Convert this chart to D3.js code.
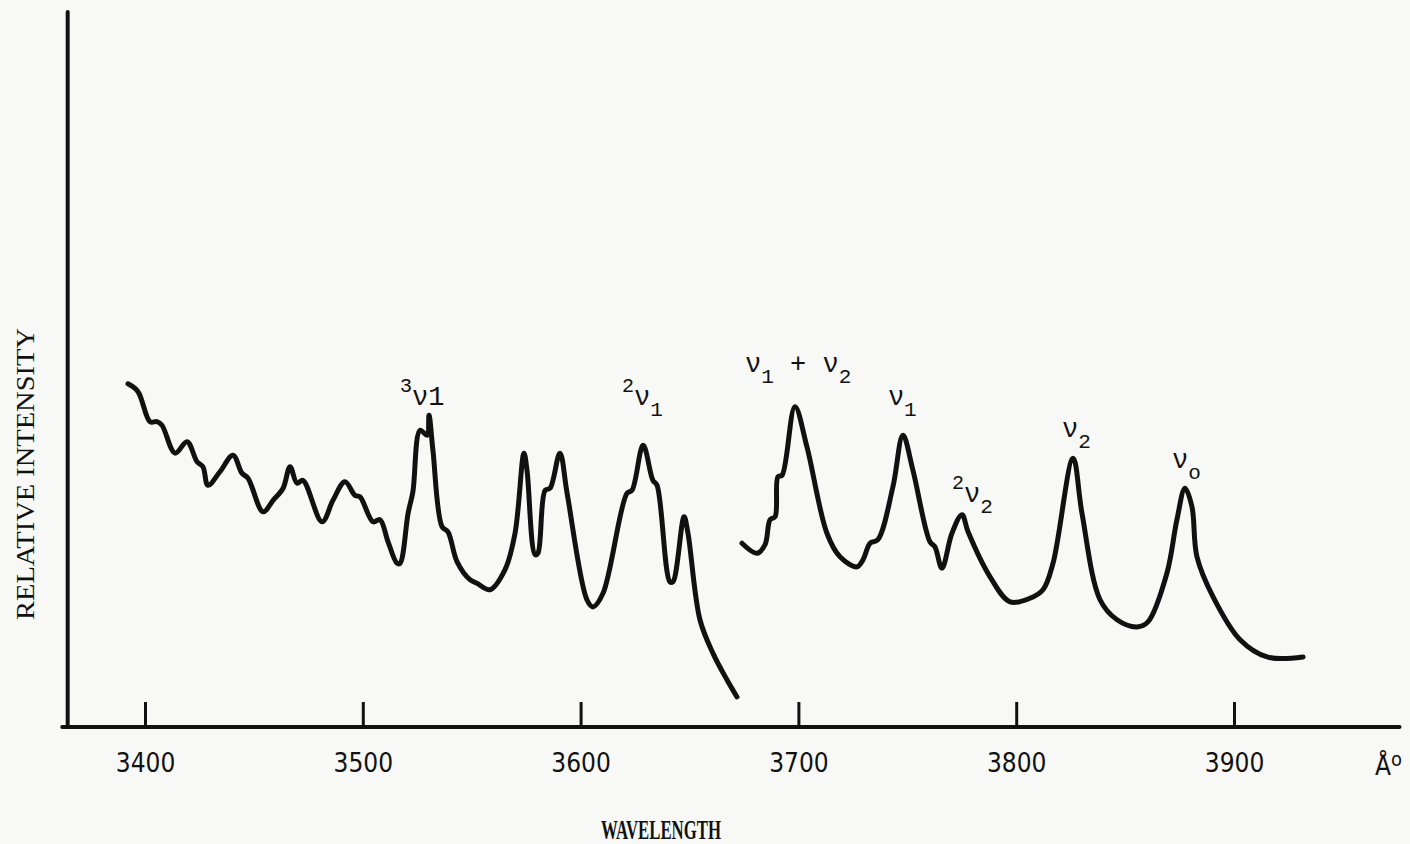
<!DOCTYPE html>
<html>
<head>
<meta charset="utf-8">
<script src="https://cdn.jsdelivr.net/npm/d3@7.9.0/dist/d3.min.js"></script>
<style>
  html, body { margin: 0; padding: 0; background: #f8f8f6; }
  svg { display: block; }
  .mono { font-family: "Liberation Mono", "DejaVu Sans Mono", monospace; fill: #111; }
</style>
</head>
<body>
<svg id="chart" width="1410" height="844"></svg>
<script>
// spectrum (wavelength in Å, relative intensity 0-100)
const seg1Wavelength = [3392.2, 3396.8, 3402.3, 3405.5, 3407.8, 3413.8, 3419.3, 3423.9, 3426.6, 3428.9,
  3434.4, 3440.4, 3444.5, 3447.3, 3454.2, 3458.8, 3463.4, 3466.6, 3469.8, 3472.5,
  3481.3, 3486.3, 3491.8, 3496.4, 3498.7, 3504.7, 3507.9, 3511.6, 3515.7, 3517.1,
  3520.8, 3523.0, 3526.3, 3529.5, 3530.4, 3532.2, 3536.4, 3539.1, 3543.3, 3549.2,
  3552.4, 3558.4, 3565.3, 3569.9, 3574.0, 3575.4, 3579.1, 3580.4, 3583.7, 3586.0,
  3590.5, 3593.8, 3602.9, 3605.7, 3610.3, 3621.3, 3623.6, 3628.7, 3633.2, 3635.1,
  3641.0, 3642.4, 3647.5, 3649.3, 3654.8, 3660.8, 3667.2, 3671.8];
const seg1Intensity = [48.0, 46.9, 42.7, 42.7, 42.2, 38.3, 39.9, 37.1, 36.4, 33.8,
  35.7, 38.0, 35.5, 34.8, 30.1, 31.7, 33.4, 36.4, 34.1, 34.5,
  28.7, 31.7, 34.3, 32.4, 32.2, 28.7, 29.0, 25.9, 22.9, 22.9,
  29.9, 32.9, 41.5, 40.8, 43.6, 38.7, 28.0, 27.3, 23.1, 20.6,
  20.1, 19.2, 22.0, 27.1, 38.3, 35.9, 24.1, 24.3, 33.1, 33.4,
  38.3, 32.7, 17.8, 16.8, 18.7, 32.7, 33.1, 39.4, 34.5, 33.8,
  20.3, 20.3, 29.4, 27.1, 15.0, 10.3, 6.6, 4.2];

const seg2Wavelength = [3674.1, 3681.0, 3684.7, 3687.0, 3689.3, 3690.6, 3692.5, 3698.4, 3703.9, 3713.1,
  3719.1, 3726.9, 3729.7, 3732.9, 3736.5, 3743.4, 3748.0, 3752.6, 3760.4, 3762.7,
  3765.9, 3770.5, 3775.1, 3777.9, 3788.0, 3797.2, 3806.3, 3812.3, 3816.9, 3826.1,
  3830.2, 3838.5, 3846.3, 3855.5, 3860.5, 3869.2, 3873.8, 3877.5, 3880.7, 3883.0,
  3890.4, 3902.8, 3915.2, 3931.7];
const seg2Intensity = [25.7, 24.3, 25.5, 29.0, 29.4, 35.0, 35.2, 44.8, 39.2, 27.1,
  23.8, 22.4, 23.4, 25.7, 26.2, 33.6, 40.8, 35.9, 25.9, 25.2,
  22.2, 27.1, 29.7, 27.3, 21.0, 17.5, 18.0, 19.2, 22.9, 37.6,
  29.9, 17.8, 15.0, 14.0, 14.7, 21.5, 29.0, 33.4, 30.8, 23.8,
  18.2, 12.2, 9.8, 9.8];

const tickValues = [3400, 3500, 3600, 3700, 3800, 3900];

// band labels: superscript, main text, subscript, anchored at (wavelength, intensity)
const bandLabels = [
  { sup: "3", main: "ν1", sub: "" },
  { sup: "2", main: "ν", sub: "1" },
  { sup: "", main: "ν", sub: "1", tail: " + ν", tailSub: "2" },
  { sup: "", main: "ν", sub: "1" },
  { sup: "2", main: "ν", sub: "2" },
  { sup: "", main: "ν", sub: "2" },
  { sup: "", main: "ν", sub: "o" }
];
const bandWavelength = [3517.1, 3619.0, 3675.5, 3741.1, 3770.5, 3821.0, 3871.5];
const bandIntensity = [45.0, 45.0, 49.7, 45.0, 31.5, 40.6, 36.2];

const svg = d3.select('#chart');

const x = d3.scaleLinear().domain([3400, 3900]).range([145, 1234]);
const y = d3.scaleLinear().domain([0, 100]).range([727, 12]);

// axes lines
svg.append('line')
  .attr('x1', x(3364.5)).attr('x2', x(3364.5))
  .attr('y1', y(100)).attr('y2', y(0))
  .attr('stroke', '#111').attr('stroke-width', 4).attr('stroke-linecap', 'round');

svg.append('line')
  .attr('x1', x(3362)).attr('x2', x(3976))
  .attr('y1', y(0)).attr('y2', y(0))
  .attr('stroke', '#111').attr('stroke-width', 4).attr('stroke-linecap', 'round');

let xAxis = d3.axisBottom(x)
  .tickValues(tickValues)
  .tickSize(-25)
  .tickSizeOuter(0)
  .tickPadding(27)
  .tickFormat(d3.format('d'));

let gx = svg.append('g')
  .attr('transform', `translate(0,${y(0)})`)
  .call(xAxis);
gx.select('.domain').remove();
gx.selectAll('.tick line').attr('stroke', '#111').attr('stroke-width', 3);
gx.selectAll('.tick text')
  .attr('fill', '#111')
  .style('font-family', '"DejaVu Sans Condensed", "DejaVu Sans", sans-serif')
  .style('font-stretch', 'condensed')
  .style('font-size', '26px');

// Å unit
svg.append('text')
  .attr('x', 1375).attr('y', 775)
  .style('font-family', '"DejaVu Sans Condensed", "DejaVu Sans", sans-serif')
  .style('font-size', '26px').attr('fill', '#111')
  .text('Å')
  .append('tspan').attr('dy', -9).style('font-size', '20px').text('o');

// axis titles
svg.append('text')
  .attr('x', 661).attr('y', 839)
  .attr('text-anchor', 'middle')
  .attr('textLength', 120).attr('lengthAdjust', 'spacingAndGlyphs')
  .style('font-family', '"Liberation Serif", serif')
  .style('font-weight', 'bold').style('font-size', '27px').attr('fill', '#111')
  .text('WAVELENGTH');

svg.append('text')
  .attr('transform', 'translate(34,474) rotate(-90)')
  .attr('text-anchor', 'middle')
  .attr('textLength', 292).attr('lengthAdjust', 'spacingAndGlyphs')
  .style('font-family', '"Liberation Serif", serif')
  .style('font-size', '25px').attr('fill', '#111')
  .text('RELATIVE INTENSITY');

// spectrum trace
const line = d3.line()
  .x(d => x(d[0]))
  .y(d => y(d[1]))
  .curve(d3.curveCatmullRom.alpha(0.5));

[[seg1Wavelength, seg1Intensity], [seg2Wavelength, seg2Intensity]].forEach(([w, v]) => {
  svg.append('path')
    .datum(d3.zip(w, v))
    .attr('d', line)
    .attr('fill', 'none')
    .attr('stroke', '#111')
    .attr('stroke-width', 5)
    .attr('stroke-linejoin', 'round')
    .attr('stroke-linecap', 'round');
});

// band labels
bandLabels.forEach((b, i) => {
  let t = svg.append('text')
    .attr('class', 'mono')
    .attr('x', x(bandWavelength[i]))
    .attr('y', y(bandIntensity[i]))
    .style('font-size', '27px');
  let shift = 0;
  if (b.sup) {
    t.append('tspan').attr('dy', -13).style('font-size', '20px').text(b.sup);
    shift = 13;
  }
  t.append('tspan').attr('dy', shift).text(b.main);
  if (b.sub) {
    t.append('tspan').attr('dy', 11).style('font-size', '21px').text(b.sub);
  }
  if (b.tail) {
    t.append('tspan').attr('dy', -11).text(b.tail);
    t.append('tspan').attr('dy', 11).style('font-size', '21px').text(b.tailSub);
  }
});
</script>
</body>
</html>
